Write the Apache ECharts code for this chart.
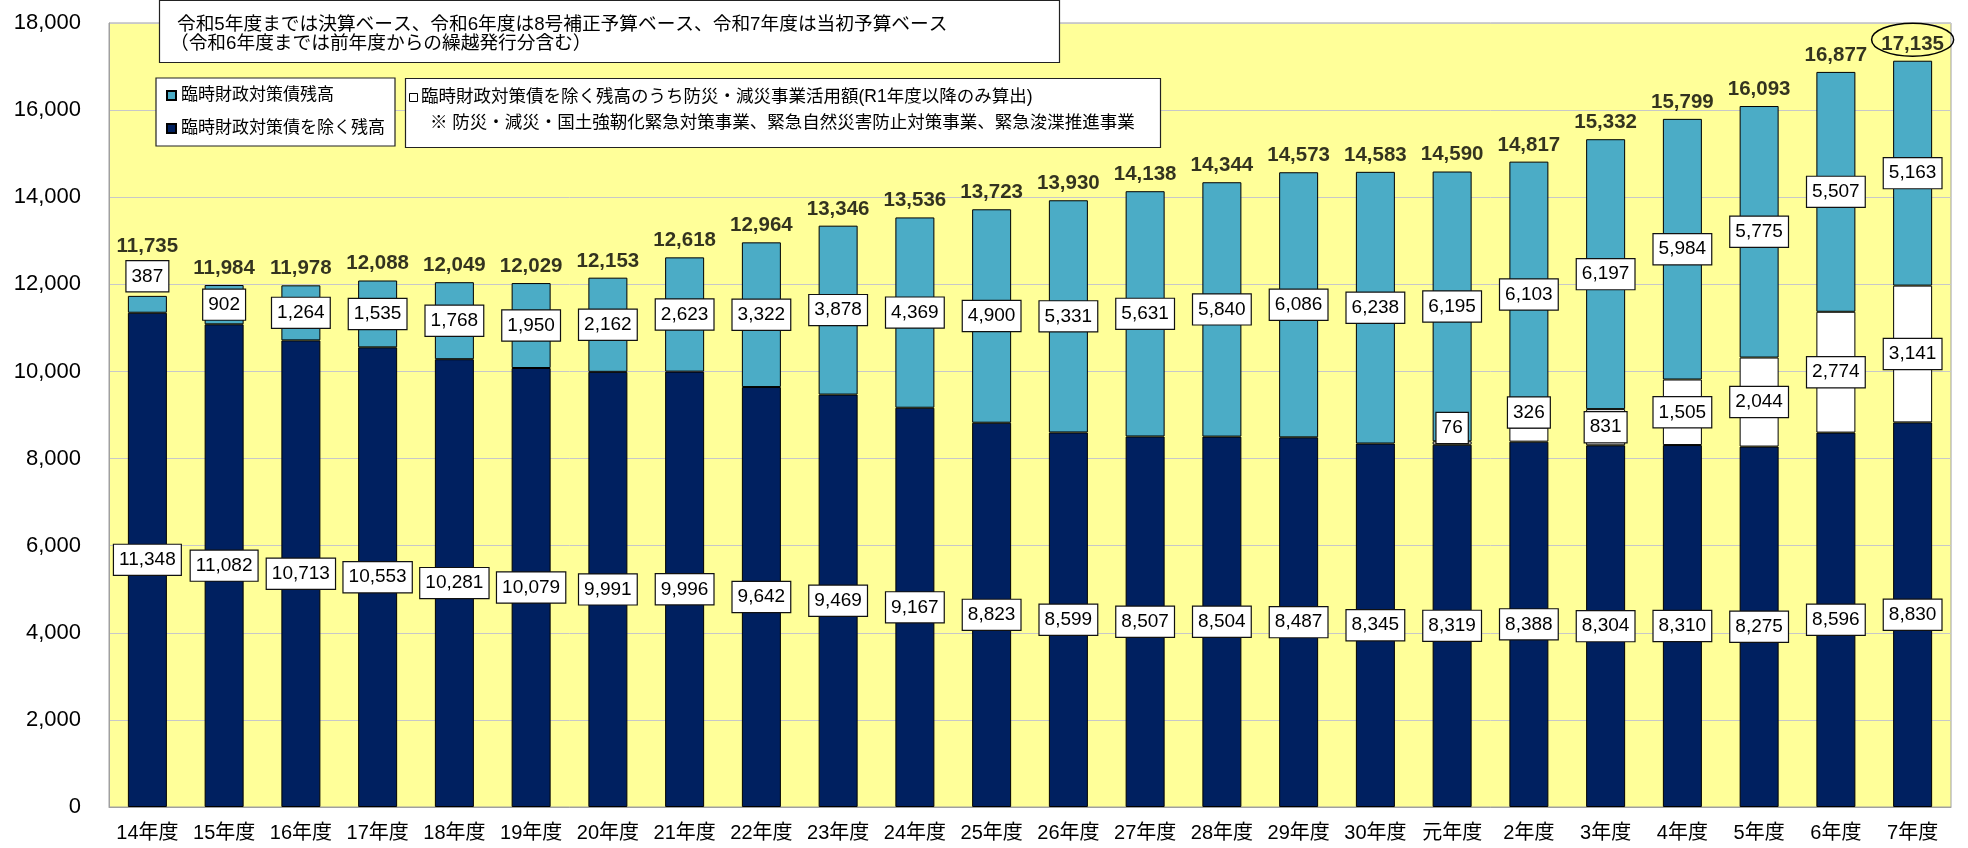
<!DOCTYPE html>
<html><head><meta charset="utf-8">
<script src="https://cdn.jsdelivr.net/npm/echarts@6/dist/echarts.min.js"></script>
<style>html,body{margin:0;padding:0;background:#fff}#c{width:1968px;height:848px}</style>
</head><body><div id="c"></div>
<script>
const categories = ['14年度','15年度','16年度','17年度','18年度','19年度','20年度','21年度','22年度','23年度','24年度','25年度','26年度','27年度','28年度','29年度','30年度','元年度','2年度','3年度','4年度','5年度','6年度','7年度'];
const baseExcl = [11348,11082,10713,10553,10281,10079,9991,9996,9642,9469,9167,8823,8599,8507,8504,8487,8345,8319,8388,8304,8310,8275,8596,8830];
const disaster = [null,null,null,null,null,null,null,null,null,null,null,null,null,null,null,null,null,76,326,831,1505,2044,2774,3141];
const rinzai = [387,902,1264,1535,1768,1950,2162,2623,3322,3878,4369,4900,5331,5631,5840,6086,6238,6195,6103,6197,5984,5775,5507,5163];
const totals = [11735,11984,11978,12088,12049,12029,12153,12618,12964,13346,13536,13723,13930,14138,14344,14573,14583,14590,14817,15332,15799,16093,16877,17135];
const yMin = 0, yMax = 18000, yInterval = 2000;

const nameRinzai = '臨時財政対策債残高';
const nameBase = '臨時財政対策債を除く残高';
const nameDisaster = '臨時財政対策債を除く残高のうち防災・減災事業活用額(R1年度以降のみ算出)';
const noteLine1 = '令和5年度までは決算ベース、令和6年度は8号補正予算ベース、令和7年度は当初予算ベース';
const noteLine2 = '（令和6年度までは前年度からの繰越発行分含む）';
const disasterNote = '※ 防災・減災・国土強靭化緊急対策事業、緊急自然災害防止対策事業、緊急浚渫推進事業';

const FONT = "'Liberation Sans','Noto Sans CJK JP',sans-serif";
const fmt = v => String(v).replace(/\B(?=(\d{3})+(?!\d))/g, ',');

// label offset tweaks (positions only)
const tealOffsets = {0: [0, -28]};
const whiteOffsets = {17: [0, -15], 18: [0, -22]};
const totalOffsets = {0: [0, -33]};

function withOffsets(arr, offs) {
  return arr.map((v, i) => offs[i] ? {value: v, label: {offset: offs[i]}} : v);
}

const boxLabel = {
  show: true, position: 'inside', fontSize: 19, fontFamily: FONT, color: '#000',
  backgroundColor: '#fff', borderColor: '#111', borderWidth: 1.2, padding: [6, 5, 5, 5],
  formatter: p => fmt(p.value)
};

const NAVY = '#002060', TEAL = '#4BACC6';

const graphics = [
  {type: 'rect', shape: {x: 159.5, y: 0.5, width: 900, height: 62}, style: {fill: '#fff', stroke: '#222', lineWidth: 1.2}, z: 100},
  {type: 'text', x: 177, y: 25, style: {text: noteLine1, font: '18.7px ' + FONT, fill: '#000', verticalAlign: 'middle'}, z: 101},
  {type: 'text', x: 170, y: 44, style: {text: noteLine2, font: '18.7px ' + FONT, fill: '#000', verticalAlign: 'middle'}, z: 101},
  {type: 'rect', shape: {x: 405.5, y: 78.5, width: 755, height: 69}, style: {fill: '#fff', stroke: '#222', lineWidth: 1.2}, z: 100},
  {type: 'rect', shape: {x: 409.5, y: 93.5, width: 8, height: 8}, style: {fill: '#fff', stroke: '#000', lineWidth: 1}, z: 101},
  {type: 'text', x: 421, y: 97, style: {text: nameDisaster, font: '17.5px ' + FONT, fill: '#000', verticalAlign: 'middle'}, z: 101},
  {type: 'text', x: 430, y: 123, style: {text: disasterNote, font: '17.5px ' + FONT, fill: '#000', verticalAlign: 'middle'}, z: 101}
];

const chart = echarts.init(document.getElementById('c'), null, {renderer: 'canvas'});
chart.setOption({
  animation: false,
  backgroundColor: '#fff',
  textStyle: {fontFamily: FONT},
  grid: {left: 109, right: 17, top: 23, bottom: 41, show: true, backgroundColor: '#FFFF99', borderColor: '#A0A0A0', borderWidth: 1},
  legend: {
    data: [nameRinzai, nameBase], orient: 'vertical', left: 156, top: 78,
    icon: 'rect', itemWidth: 9, itemHeight: 9, itemGap: 16, padding: [9, 10, 9, 10],
    backgroundColor: '#fff', borderColor: '#222', borderWidth: 1.2,
    textStyle: {fontSize: 17, fontFamily: FONT, color: '#000'}, z: 100,
    selectedMode: false
  },
  xAxis: {
    type: 'category', data: categories,
    axisLine: {lineStyle: {color: '#A0A0A0'}},
    axisTick: {inside: true, length: 5, lineStyle: {color: '#B0B0B0'}},
    axisLabel: {interval: 0, fontSize: 20, color: '#000', margin: 16, fontFamily: FONT}
  },
  yAxis: {
    type: 'value', min: yMin, max: yMax, interval: yInterval,
    axisLine: {show: true, lineStyle: {color: '#A0A0A0'}},
    axisTick: {show: false},
    splitLine: {lineStyle: {color: '#C8C8C8'}},
    axisLabel: {fontSize: 22, color: '#000', margin: 28, fontFamily: FONT, formatter: v => fmt(v)}
  },
  series: [
    {name: nameBase, type: 'bar', stack: 'a', barWidth: 39, data: baseExcl,
      itemStyle: {color: NAVY, borderColor: '#000', borderWidth: 1}, label: boxLabel},
    {name: nameDisaster, type: 'bar', stack: 'a', barWidth: 39, data: withOffsets(disaster, whiteOffsets),
      itemStyle: {color: '#fff', borderColor: '#000', borderWidth: 1}, label: boxLabel},
    {name: nameRinzai, type: 'bar', stack: 'a', barWidth: 39, data: withOffsets(rinzai, tealOffsets),
      itemStyle: {color: TEAL, borderColor: '#000', borderWidth: 1}, label: boxLabel},
    {name: '合計', type: 'scatter', symbolSize: 1, data: withOffsets(totals, totalOffsets),
      itemStyle: {color: 'rgba(0,0,0,0)'}, silent: true,
      label: {show: true, position: 'top', distance: 6, fontSize: 20.5, fontWeight: 'bold', color: '#000', fontFamily: FONT,
        formatter: p => fmt(p.value)}}
  ],
  graphic: graphics
});

const last = categories.length - 1;
const pt = chart.convertToPixel({xAxisIndex: 0, yAxisIndex: 0}, [last, totals[last]]);
graphics.push({type: 'ellipse', shape: {cx: pt[0], cy: pt[1] - 21, rx: 41, ry: 16.5},
  style: {fill: 'none', stroke: '#000', lineWidth: 1.5}, z: 50});
chart.setOption({graphic: graphics});
</script></body></html>
